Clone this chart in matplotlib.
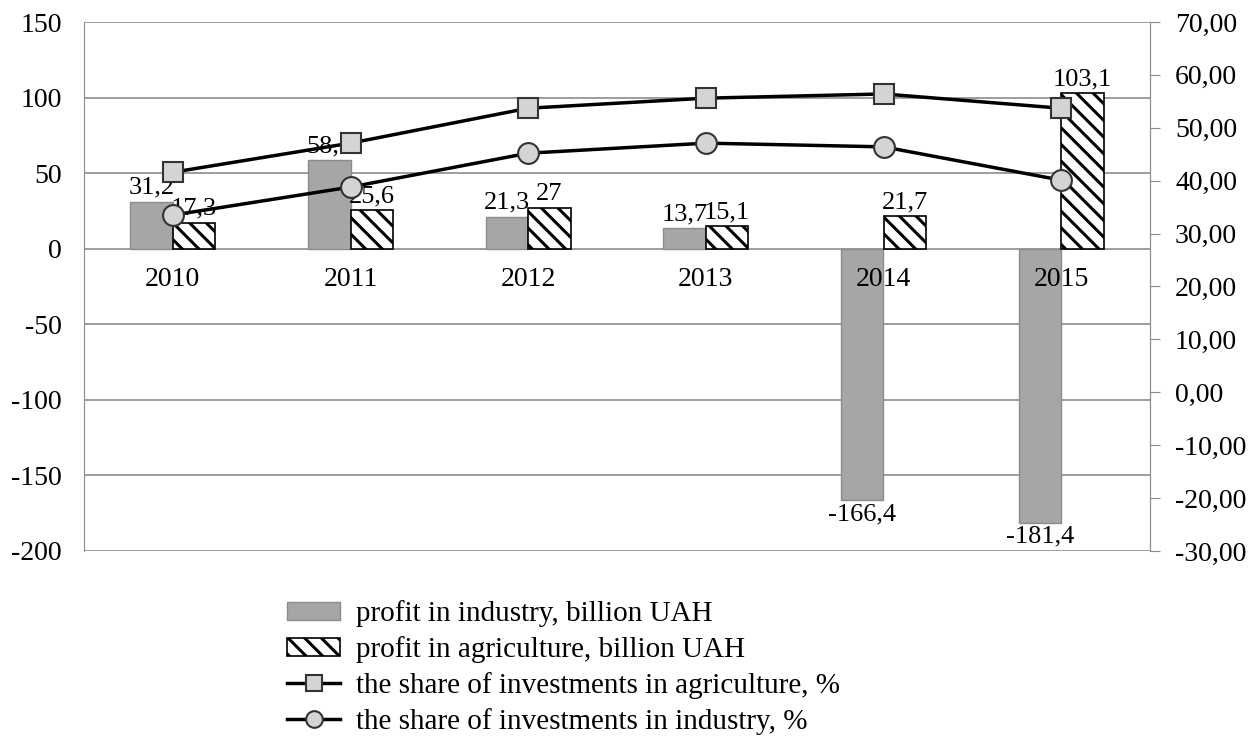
import matplotlib.pyplot as plt
import numpy as np

years = ['2010', '2011', '2012', '2013', '2014', '2015']
profit_industry = [31.2, 58.6, 21.3, 13.7, -166.4, -181.4]
profit_agri = [17.3, 25.6, 27, 15.1, 21.7, 103.1]
share_agri = [41.6, 47.1, 53.7, 55.6, 56.4, 53.7]
share_industry = [33.5, 38.8, 45.2, 47.1, 46.4, 40.1]

plt.rcParams['font.family'] = ['Liberation Serif', 'DejaVu Serif']
plt.rcParams['hatch.linewidth'] = 2.2
plt.rcParams['axes.unicode_minus'] = False

fig = plt.figure(figsize=(12.56, 7.4), dpi=100)
ax = fig.add_axes([84 / 1256, 1 - 551 / 740, (1150 - 84) / 1256, (551 - 22) / 740])
ax2 = ax.twinx()

x = np.arange(len(years))
w = 0.24
b1 = ax.bar(x - w / 2, profit_industry, w, color='#a6a6a6', edgecolor='#8c8c8c',
            linewidth=1, label='profit in industry, billion UAH', zorder=2)
b2 = ax.bar(x + w / 2, profit_agri, w, color='white', edgecolor='black', hatch='\\\\',
            linewidth=1.2, label='profit in agriculture, billion UAH', zorder=2)

fmt = lambda v: ('%g' % v).replace('.', ',')
for xi, v in zip(x, profit_industry):
    if v >= 0:
        ax.annotate(fmt(v), (xi - w / 2, v), xytext=(0, 2), textcoords='offset points',
                    ha='center', va='bottom', fontsize=19, zorder=5)
    else:
        ax.annotate(fmt(v), (xi - w / 2, v), xytext=(0, -2), textcoords='offset points',
                    ha='center', va='top', fontsize=19, zorder=5)
for xi, v in zip(x, profit_agri):
    ax.annotate(fmt(v), (xi + w / 2, v), xytext=(0, 2), textcoords='offset points',
                ha='center', va='bottom', fontsize=19, zorder=5)

ax.set_xlim(-0.5, 5.5)
ax.set_ylim(-200, 150)
ax.set_yticks(range(-200, 151, 50))
ax.yaxis.grid(True, color='#8c8c8c', linewidth=1.2, zorder=0)
ax.set_axisbelow(True)
ax.set_xticks([])
for xi, yr in zip(x, years):
    ax.annotate(yr, (xi, 0), xytext=(0, -13), textcoords='offset points',
                ha='center', va='top', fontsize=20, zorder=6)
ax.tick_params(axis='y', length=0, labelsize=20, pad=16)
for s in ['top', 'bottom']:
    ax.spines[s].set_visible(False)
ax.spines['left'].set_color('#8c8c8c')
ax.spines['right'].set_color('#8c8c8c')

l1, = ax2.plot(x, share_agri, color='black', linewidth=2.5, marker='s', markersize=14,
               markerfacecolor='#d4d4d4', markeredgecolor='#333333', markeredgewidth=1.5,
               label='the share of investments in agriculture, %')
l2, = ax2.plot(x, share_industry, color='black', linewidth=2.5, marker='o', markersize=15,
               markerfacecolor='#d4d4d4', markeredgecolor='#333333', markeredgewidth=1.5,
               label='the share of investments in industry, %')
ax2.set_ylim(-30, 70)
ax2.set_yticks(range(-30, 71, 10))
ax2.set_yticklabels([('%.2f' % t).replace('.', ',') for t in range(-30, 71, 10)])
ax2.tick_params(axis='y', direction='out', length=7, color='#8c8c8c', labelsize=20, pad=11)
for s in ['top', 'bottom', 'left']:
    ax2.spines[s].set_visible(False)
ax2.spines['right'].set_color('#8c8c8c')

fig.legend([b1, b2, l1, l2], [b1.get_label(), b2.get_label(), l1.get_label(), l2.get_label()],
           loc='upper left', bbox_to_anchor=(261 / 1256, 1 - 574 / 740), frameon=False,
           fontsize=21, handlelength=1.8, handleheight=0.6, labelspacing=0.31,
           handletextpad=0.55, borderpad=0.4, markerscale=0.8)

fig.savefig('out.png', dpi=100)
